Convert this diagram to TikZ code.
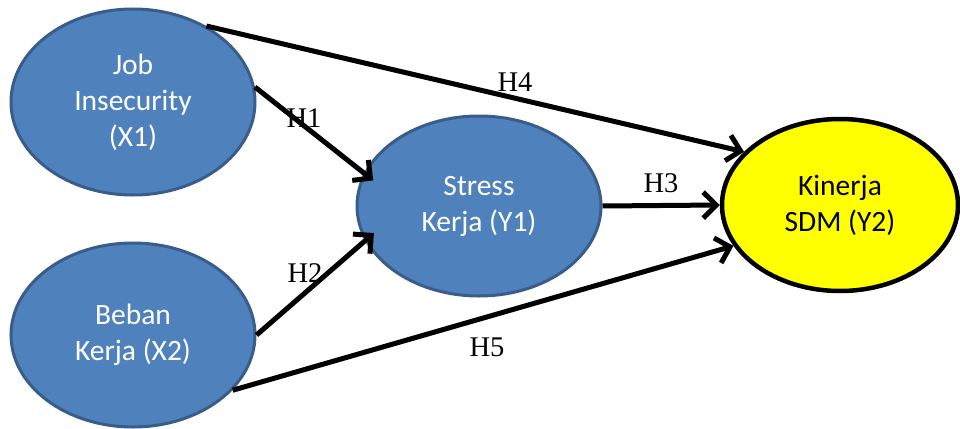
\documentclass[tikz,border=0pt]{standalone}
\usepackage{fontspec}
\setmainfont{Liberation Serif}
\newfontfamily\calib{Carlito}
\usetikzlibrary{shapes.geometric,arrows.meta}
\definecolor{nodeblue}{HTML}{4F81BD}
\definecolor{nodeedge}{HTML}{385D8A}
\definecolor{pureyellow}{HTML}{FFFF00}
\tikzset{
  varblue/.style={ellipse, draw=nodeedge, line width=3pt, fill=nodeblue, text=white,
    inner sep=0pt, align=center, font=\calib\fontsize{29.5}{36}\selectfont},
  varyellow/.style={ellipse, draw=black, line width=4.5pt, fill=pureyellow, text=black,
    inner sep=0pt, align=center, font=\calib\fontsize{29.5}{36}\selectfont},
  conn/.style={line width=5pt, -{Straight Barb[length=13pt,width=26pt,line width=5pt]},
    preaction={draw=black!40, opacity=0.35, transform canvas={shift={(1.5pt,-2pt)}}}},
  hlabel/.style={font=\fontsize{28.5}{32}\selectfont, inner sep=0pt}
}
\begin{document}
\begin{tikzpicture}[x=1pt,y=-1pt]
\useasboundingbox (0,0) rectangle (960,428);
\node[varblue, minimum width=244pt, minimum height=186pt] (x1) at (133,102) {Job\\Insecurity\\(X1)};
\node[varblue, minimum width=244pt, minimum height=184pt] (x2) at (133,335) {Beban\\Kerja (X2)};
\node[varblue, minimum width=244pt, minimum height=180pt] (y1) at (479,206) {Stress\\Kerja (Y1)};
\node[varyellow, minimum width=236pt, minimum height=172pt] (y2) at (840,205) {Kinerja\\SDM (Y2)};

\draw[conn] (x1.46) -- (y2.151);
\draw[conn, shorten >=-12pt] (x1.7) -- (y1.164);
\draw[conn, shorten >=-12pt] (x2.0) -- (y1.197);
\draw[conn] (y1.0) -- (y2.180);
\draw[conn] (x2.-29) -- (y2.201);

\node[hlabel] (h1) at (304,118) {H1};
\node[hlabel] (h2) at (305,273) {H2};
\node[hlabel] (h3) at (661,183) {H3};
\node[hlabel] (h4) at (515,82) {H4};
\node[hlabel] (h5) at (487,347) {H5};
\end{tikzpicture}
\end{document}
